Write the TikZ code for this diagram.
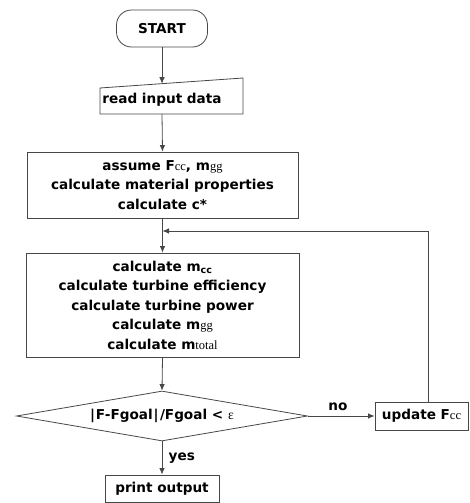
\documentclass[tikz,border=0pt]{standalone}
\usepackage{fontspec}
\setmainfont{DejaVu Sans}
\newfontfamily\subserif{Liberation Serif}
\usetikzlibrary{arrows.meta, positioning, shapes.geometric, calc}
\usepackage{xcolor}
\definecolor{linegray}{HTML}{474747}
\newcommand{\ssub}[1]{{\subserif\mdseries\fontsize{12.5}{12.5}\selectfont #1}}

\begin{document}
\begin{tikzpicture}[
    x=1pt, y=1pt,
    box/.style = {draw=linegray, line width=0.8pt, align=center, inner sep=0pt, font=\fontsize{13.6}{19.5}\bfseries\selectfont},
    arrow/.style = {draw=linegray, line width=0.8pt, -{Latex[length=6.5pt, width=5.5pt]}},
    textnode/.style = {font=\fontsize{13.6}{15}\bfseries\selectfont}
]
\useasboundingbox (0,0) rectangle (469,-503);

% Start terminal
\node[box, rounded corners=15pt, minimum width=91pt, minimum height=37pt] (start) at (162,-28.5) {START};

% Read input (manual input shape drawn by hand)
\node[textnode] (read) at (162,-99.5) {read input data};
\coordinate (rsw) at (100,-114);
\coordinate (rse) at (243,-114);
\coordinate (rne) at (243,-78);
\coordinate (rnw) at (100,-88);
\draw[linegray, line width=0.8pt] (rsw) -- (rse) -- (rne) -- (rnw) -- cycle;
\coordinate (readtop) at (162,-83.7);
\coordinate (readbot) at (162,-114);

% Initial assumptions
\node[box, minimum width=271pt, minimum height=66pt] (assume) at (162.5,-185)
    {assume F\ssub{cc}, m\ssub{gg}\\ calculate material properties\\ calculate c*};

% Main calculation block
\node[box, minimum width=273pt, minimum height=104pt] (calc) at (162.5,-305)
    {calculate m$_{\mathbf{cc}}$\\ calculate turbine efficiency\\ calculate turbine power\\ calculate m\ssub{gg}\\ calculate m\ssub{total}};

% Convergence test
\node[box, diamond, aspect=5.82, minimum width=291pt, minimum height=50pt] (test) at (162,-416)
    {|\kern0.8pt F-Fgoal\kern0.8pt|\kern1.5pt/Fgoal < {\subserif\mdseries ε}};

% Update and output
\node[box, minimum width=93pt, minimum height=28pt] (update) at (421.5,-416) {update F\ssub{cc}};
\node[box, minimum width=114pt, minimum height=27pt] (print) at (162,-488.5) {print output};

% Connectors
\draw[arrow] (start.south) -- (readtop);
\draw[arrow] (readbot) -- (assume.north);
\draw[arrow] (assume.south) -- (calc.north);
\draw[arrow] (calc.south) -- (test.north);
\draw[arrow] (test.east) -- (update.west) node[textnode, above=2pt, pos=0.45] {no};
\draw[arrow] (test.south) -- (print.north) node[textnode, right=3pt, pos=0.5] {yes};

% Loop back above the calculation block
\coordinate (join) at (162.5,-231);
\draw[arrow] ([xshift=6.5pt]update.north) |- (join);

\end{tikzpicture}
\end{document}
